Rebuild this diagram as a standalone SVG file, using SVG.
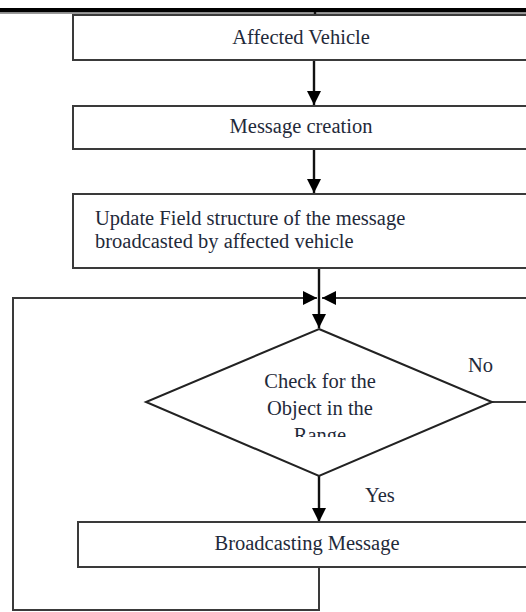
<svg xmlns="http://www.w3.org/2000/svg" width="526" height="612" viewBox="0 0 526 612">
  <style>
    .box { fill: #ffffff; stroke: #3a3a3a; stroke-width: 2; }
    .dia { fill: #ffffff; stroke: #222222; stroke-width: 2; }
    .wire { fill: none; stroke: #111111; stroke-width: 2.4; }
    .thin { fill: none; stroke: #3a3a3a; stroke-width: 2; }
    .lbl { font-family: "Liberation Serif", "Times New Roman", serif; font-size: 20.5px; fill: #1f2a3a; }
    .mid { text-anchor: middle; }
  </style>
  <defs>
    <marker id="arrow" markerUnits="userSpaceOnUse" markerWidth="16" markerHeight="16" viewBox="0 0 16 16" refX="15" refY="8" orient="auto">
      <path d="M1,1 L15,8 L1,15 Z" fill="#000000"/>
    </marker>
    <clipPath id="diaText">
      <rect x="0" y="360" width="526" height="77"/>
    </clipPath>
  </defs>

  <!-- page header rule -->
  <rect x="0" y="8" width="526" height="4.5" fill="#000000"/>
  <rect x="0" y="12.5" width="526" height="1.5" fill="#9a9a9a"/>

  <g id="connectors">
    <line class="wire" x1="315" y1="12" x2="315" y2="15"/>
    <line class="wire" x1="314" y1="60" x2="314" y2="105" marker-end="url(#arrow)"/>
    <line class="wire" x1="314" y1="149" x2="314" y2="193" marker-end="url(#arrow)"/>
    <line class="wire" x1="319" y1="268" x2="319" y2="328" marker-end="url(#arrow)"/>
    <line class="wire" x1="319" y1="476" x2="319" y2="522" marker-end="url(#arrow)"/>
    <!-- loop back from broadcasting -->
    <polyline class="thin" points="319,567 319,610 13,610 13,298 302,298"/>
    <line class="thin" x1="300" y1="298" x2="317" y2="298" marker-end="url(#arrow)"/>
    <!-- No branch returning from the right -->
    <line class="thin" x1="492" y1="402" x2="530" y2="402"/>
    <line class="thin" x1="530" y1="298" x2="322" y2="298" marker-end="url(#arrow)"/>
  </g>

  <g id="affected-vehicle">
    <rect class="box" x="73" y="15" width="470" height="45"/>
    <text class="lbl mid" x="301" y="44">Affected Vehicle</text>
  </g>

  <g id="message-creation">
    <rect class="box" x="73" y="106" width="470" height="43"/>
    <text class="lbl mid" x="301" y="133">Message creation</text>
  </g>

  <g id="update-field">
    <rect class="box" x="73" y="194" width="470" height="74"/>
    <text class="lbl" x="95" y="225">Update Field structure of the message</text>
    <text class="lbl" x="95" y="248">broadcasted by affected vehicle</text>
  </g>

  <g id="check-range">
    <polygon class="dia" points="319,329 492,402 319,476 146,402"/>
    <g clip-path="url(#diaText)">
      <text class="lbl mid" x="320" y="388">Check for the</text>
      <text class="lbl mid" x="320" y="415">Object in the</text>
      <text class="lbl mid" x="320" y="442">Range</text>
    </g>
    <text class="lbl" x="468" y="372">No</text>
    <text class="lbl" x="365" y="502">Yes</text>
  </g>

  <g id="broadcasting">
    <rect class="box" x="78" y="522" width="465" height="45"/>
    <text class="lbl mid" x="307" y="550">Broadcasting Message</text>
  </g>
</svg>
